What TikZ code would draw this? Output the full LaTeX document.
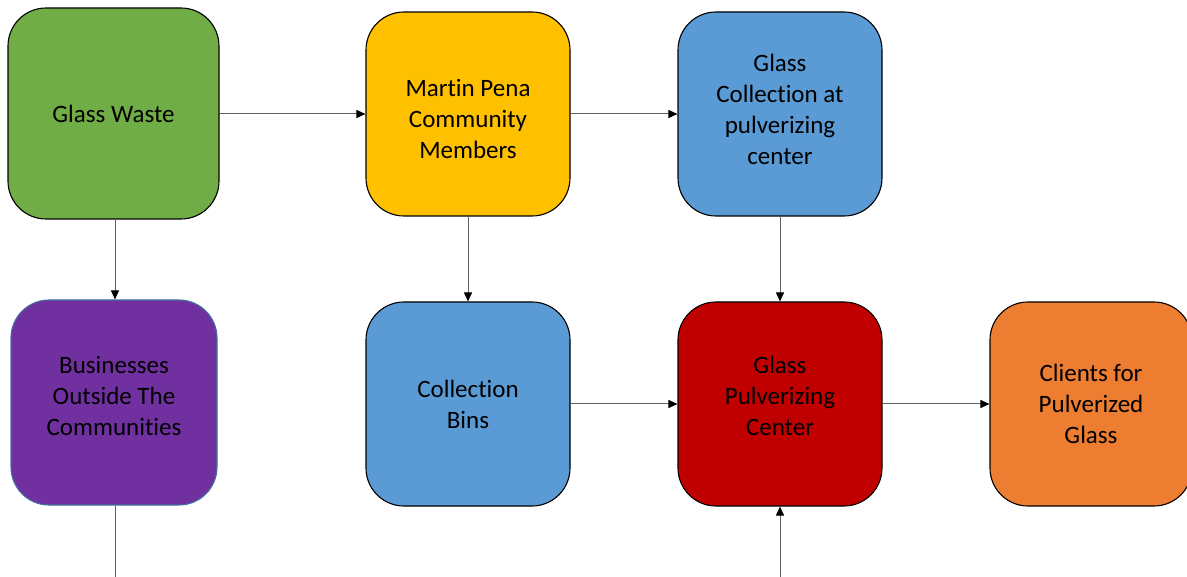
\documentclass[tikz,border=0pt]{standalone}
\usepackage{fontspec}
\setmainfont{Carlito}[Ligatures=NoCommon]
\usetikzlibrary{arrows.meta}
\definecolor{cgreen}{HTML}{70AD47}
\definecolor{cyellow}{HTML}{FFC000}
\definecolor{cblue}{HTML}{5B9BD5}
\definecolor{cpurple}{HTML}{7030A0}
\definecolor{cred}{HTML}{C00000}
\definecolor{corange}{HTML}{ED7D31}
\definecolor{cpborder}{HTML}{41719C}
\tikzset{
  box/.style={draw=black, line width=1.1pt, rounded corners=38pt,
    minimum width=204pt, minimum height=204pt, inner sep=0pt},
  txt/.style={align=center, inner sep=0pt, text=black,
    font=\fontsize{25}{31}\selectfont},
  arr/.style={draw=black!62, line width=1pt, -{Triangle[length=9pt,width=8pt,fill=black,color=black]}},
  ln/.style={draw=black!62, line width=1pt}
}
\begin{document}
\begin{tikzpicture}[x=1pt,y=-1pt]
\useasboundingbox (0,0) rectangle (1187,577);
\node[box, fill=cgreen, minimum width=211pt, minimum height=211pt] (gw) at (113.5,113.5) {};
\node[box, fill=cyellow] (mp) at (468,114) {};
\node[box, fill=cblue] (gc) at (780,114) {};
\node[box, fill=cpurple, draw=cpborder, minimum width=206pt, minimum height=205pt] (bo) at (114,402.5) {};
\node[box, fill=cblue] (cb) at (468,404) {};
\node[box, fill=cred] (pc) at (780,404) {};
\node[box, fill=corange, minimum width=202pt] (cl) at (1091,404) {};
\node[txt] (gwt) at (113.5,114) {Glass Waste};
\node[txt] (mpt) at (468,119) {Martin Pena\\Community\\Members};
\node[txt] (gct) at (780,109) {Glass\\Collection at\\pulverizing\\center};
\node[txt] (bot) at (114,396) {Businesses\\Outside The\\Communities};
\node[txt] (cbt) at (468,404.5) {Collection\\Bins};
\node[txt] (pct) at (780,396) {Glass\\Pulverizing\\Center};
\node[txt] (clt) at (1091,404) {Clients for\\Pulverized\\Glass};
\coordinate (bl) at (115,577.4);
\coordinate (br) at (780,577.4);
\draw[arr] (gw.east |- 0,114) -- (mp.west);
\draw[arr] (mp.east) -- (gc.west);
\draw[arr] (gw.south -| 115,0) -- (bo.north -| 115,0);
\draw[arr] (mp.south) -- (cb.north);
\draw[arr] (gc.south) -- (pc.north);
\draw[arr] (cb.east) -- (pc.west);
\draw[arr] (pc.east) -- (cl.west);
\draw[ln] (bo.south -| 115,0) -- (bl) -- (br);
\draw[arr] (br) -- (pc.south);
\end{tikzpicture}
\end{document}
